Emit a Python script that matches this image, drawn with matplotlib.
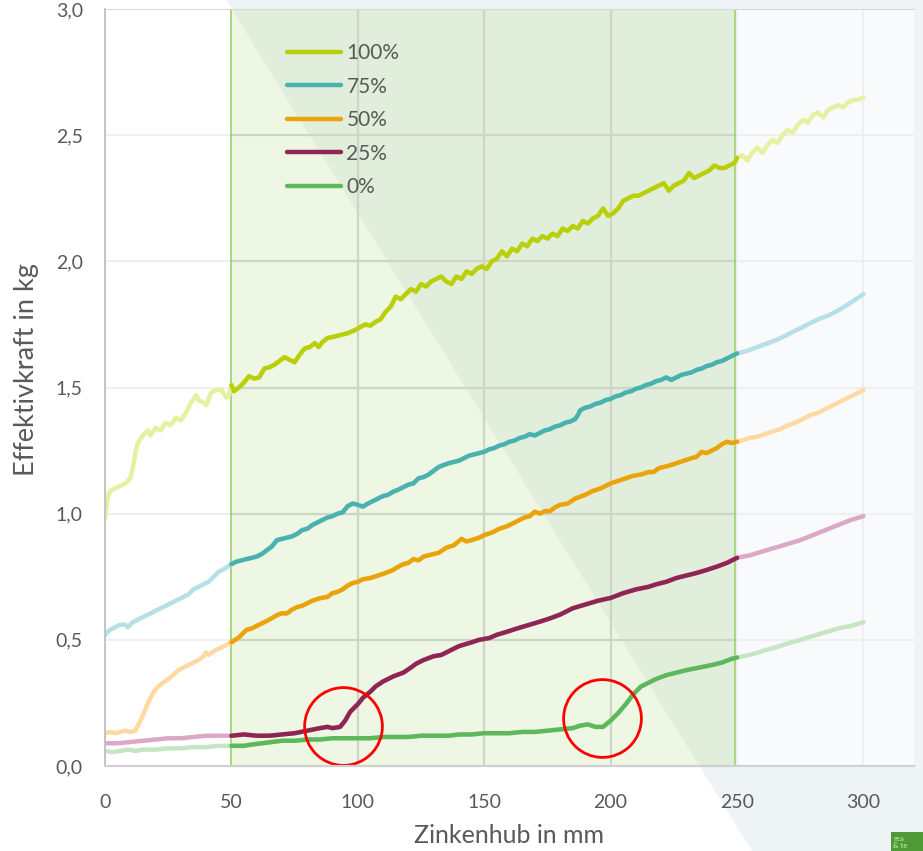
import numpy as np
import matplotlib
matplotlib.use("Agg")
import matplotlib.pyplot as plt
from matplotlib.patches import Polygon, Rectangle

plt.rcParams['font.family'] = ['Lato', 'DejaVu Sans']

# Zinkenhub (mm) und Effektivkraft (kg) je Vorspannung
x100 = [0, 1, 2, 4, 6, 8, 10, 11, 12, 13, 15, 17, 18, 20, 22, 24, 26, 28, 30, 32, 34,
        36, 37, 39, 40, 42, 44, 46, 48, 49, 50, 51, 53, 55, 57, 59, 61, 63, 65, 67, 69,
        71, 73, 75, 77, 79, 81, 83, 84.5, 86, 88, 90, 92, 94, 96, 99, 101, 103, 105, 107,
        109, 111, 113, 115, 117, 119, 121, 123, 125, 127, 129, 131, 133, 135, 137, 139,
        141, 143, 145, 147, 149, 151, 153, 155, 157, 159, 161, 163, 165, 167, 169, 171,
        173, 175, 177, 179, 181, 183, 185, 187, 189, 191, 193, 195, 197, 199, 201, 203,
        205, 207, 209, 211, 213, 215, 217, 219, 221, 223, 225, 227, 229, 231, 233, 235,
        237, 239, 241, 243, 245, 247, 249, 250, 252, 254, 256, 258, 260, 262, 264, 266,
        268, 270, 272, 274, 276, 278, 280, 282, 284, 286, 288, 290, 292, 294, 296, 298, 300]
y100 = [0.98, 1.06, 1.09, 1.10, 1.11, 1.12, 1.14, 1.18, 1.24, 1.28, 1.31, 1.33, 1.31, 1.34,
        1.33, 1.36, 1.35, 1.38, 1.37, 1.40, 1.44, 1.47, 1.45, 1.44, 1.43, 1.48, 1.49, 1.49,
        1.46, 1.47, 1.51, 1.485, 1.50, 1.52, 1.545, 1.535, 1.54, 1.575, 1.58, 1.59, 1.605,
        1.62, 1.61, 1.60, 1.63, 1.655, 1.66, 1.676, 1.66, 1.68, 1.696, 1.70, 1.705, 1.71,
        1.715, 1.728, 1.74, 1.75, 1.745, 1.76, 1.77, 1.80, 1.82, 1.86, 1.85, 1.87, 1.89,
        1.88, 1.91, 1.90, 1.92, 1.93, 1.94, 1.92, 1.91, 1.94, 1.93, 1.96, 1.95, 1.97, 1.98,
        1.97, 2.00, 2.01, 2.04, 2.02, 2.05, 2.04, 2.07, 2.06, 2.09, 2.08, 2.10, 2.09, 2.11,
        2.10, 2.13, 2.12, 2.14, 2.13, 2.16, 2.15, 2.17, 2.18, 2.21, 2.18, 2.19, 2.21, 2.24,
        2.25, 2.26, 2.26, 2.27, 2.28, 2.29, 2.30, 2.31, 2.28, 2.30, 2.31, 2.32, 2.35, 2.33,
        2.34, 2.35, 2.36, 2.38, 2.37, 2.37, 2.38, 2.39, 2.41, 2.42, 2.40, 2.43, 2.45, 2.43,
        2.46, 2.48, 2.47, 2.50, 2.52, 2.51, 2.54, 2.56, 2.55, 2.58, 2.59, 2.57, 2.60, 2.61,
        2.62, 2.61, 2.63, 2.64, 2.64, 2.65]

x75 = [0, 2, 4, 6, 8, 9, 11, 13, 15, 17, 19, 21, 23, 25, 27, 29, 31, 33, 35, 37, 39, 41,
       43, 45, 47, 50, 52, 54, 56, 58, 60, 62, 64, 66, 68, 70, 72, 74, 76, 78, 80, 82, 84,
       86, 88, 90, 92, 94, 96, 98, 100, 102, 104, 106, 108, 110, 112, 114, 116, 118, 120,
       122, 124, 126, 128, 130, 132, 134, 136, 138, 140, 142, 144, 146, 148, 150, 152, 154,
       156, 158, 160, 162, 164, 166, 168, 170, 172, 174, 176, 178, 180, 182, 184, 186, 187,
       188, 190, 192, 194, 196, 198, 200, 202, 204, 206, 208, 210, 212, 214, 216, 218, 220,
       222, 224, 226, 228, 230, 232, 234, 236, 238, 240, 242, 244, 246, 248, 250, 254, 258,
       262, 266, 270, 274, 278, 282, 286, 290, 294, 297, 300]
y75 = [0.52, 0.54, 0.55, 0.56, 0.56, 0.55, 0.57, 0.58, 0.59, 0.60, 0.61, 0.62, 0.63, 0.64,
       0.65, 0.66, 0.67, 0.68, 0.70, 0.71, 0.72, 0.73, 0.75, 0.77, 0.78, 0.80, 0.81, 0.815,
       0.82, 0.825, 0.83, 0.84, 0.855, 0.87, 0.895, 0.90, 0.905, 0.91, 0.92, 0.935, 0.94,
       0.955, 0.965, 0.975, 0.985, 0.99, 1.00, 1.005, 1.03, 1.04, 1.035, 1.028, 1.04, 1.05,
       1.06, 1.07, 1.075, 1.087, 1.095, 1.105, 1.115, 1.12, 1.14, 1.145, 1.155, 1.17, 1.185,
       1.193, 1.20, 1.205, 1.21, 1.22, 1.23, 1.235, 1.24, 1.245, 1.255, 1.26, 1.27, 1.275,
       1.285, 1.29, 1.30, 1.305, 1.315, 1.31, 1.32, 1.33, 1.335, 1.345, 1.35, 1.36, 1.365,
       1.375, 1.39, 1.41, 1.42, 1.425, 1.435, 1.44, 1.45, 1.455, 1.465, 1.47, 1.48, 1.485,
       1.495, 1.50, 1.51, 1.515, 1.525, 1.53, 1.54, 1.53, 1.54, 1.55, 1.555, 1.56, 1.57,
       1.575, 1.585, 1.59, 1.60, 1.605, 1.615, 1.625, 1.635, 1.645, 1.66, 1.675, 1.69, 1.71,
       1.73, 1.75, 1.77, 1.785, 1.805, 1.83, 1.85, 1.87]

x50 = [0, 2, 4, 6, 8, 10, 12, 13, 15, 17, 19, 21, 23, 25, 27, 29, 31, 33, 35, 37, 39, 40,
       41, 43, 45, 47, 50, 53, 56, 58, 60, 62, 65, 68, 70, 72, 74, 76, 78, 80, 82, 85, 88,
       90, 92, 94, 96, 98, 100, 102, 105, 108, 111, 114, 116, 118, 120, 122, 124, 126, 128,
       130, 132, 135, 138, 141, 143, 145, 148, 150, 153, 156, 159, 162, 164, 166, 168, 170,
       172, 174, 176, 178, 180, 183, 186, 188, 190, 193, 196, 198, 200, 203, 206, 209, 212,
       215, 217, 219, 221, 223, 226, 229, 232, 234, 236, 238, 240, 242, 244, 246, 248, 250,
       252, 255, 258, 261, 264, 267, 270, 273, 276, 279, 282, 285, 288, 291, 294, 297, 300]
y50 = [0.13, 0.135, 0.13, 0.135, 0.14, 0.135, 0.14, 0.16, 0.20, 0.25, 0.29, 0.315, 0.33,
       0.345, 0.36, 0.38, 0.39, 0.40, 0.41, 0.42, 0.435, 0.45, 0.44, 0.455, 0.465, 0.475,
       0.49, 0.51, 0.54, 0.545, 0.555, 0.565, 0.58, 0.598, 0.605, 0.605, 0.62, 0.63, 0.635,
       0.645, 0.655, 0.665, 0.67, 0.685, 0.69, 0.70, 0.715, 0.725, 0.73, 0.74, 0.745, 0.755,
       0.765, 0.777, 0.79, 0.80, 0.805, 0.82, 0.815, 0.83, 0.835, 0.84, 0.845, 0.865, 0.875,
       0.90, 0.89, 0.895, 0.905, 0.915, 0.925, 0.94, 0.95, 0.965, 0.975, 0.985, 0.99, 1.008,
       1.00, 1.01, 1.01, 1.025, 1.035, 1.04, 1.06, 1.067, 1.075, 1.09, 1.10, 1.11, 1.12,
       1.13, 1.14, 1.15, 1.155, 1.165, 1.165, 1.18, 1.185, 1.19, 1.20, 1.21, 1.22, 1.225,
       1.245, 1.24, 1.25, 1.26, 1.275, 1.285, 1.28, 1.285, 1.29, 1.30, 1.305, 1.315, 1.325,
       1.335, 1.35, 1.36, 1.375, 1.39, 1.40, 1.415, 1.43, 1.445, 1.46, 1.475, 1.49]

x25 = [0, 5, 10, 15, 20, 25, 30, 35, 40, 45, 50, 55, 60, 65, 70, 75, 80, 85, 88, 90, 93,
       95, 97, 100, 102, 105, 107, 110, 114, 118, 121, 123, 126, 130, 133, 136, 140, 145,
       148, 152, 155, 159, 163, 168, 172, 176, 180, 185, 190, 195, 200, 205, 210, 215, 218,
       222, 226, 230, 234, 238, 242, 246, 248, 250, 255, 260, 265, 270, 275, 280, 285, 290,
       295, 300]
y25 = [0.09, 0.09, 0.095, 0.10, 0.105, 0.11, 0.11, 0.115, 0.12, 0.12, 0.12, 0.125, 0.12,
       0.12, 0.125, 0.13, 0.14, 0.15, 0.155, 0.15, 0.155, 0.18, 0.215, 0.245, 0.27, 0.295,
       0.315, 0.335, 0.355, 0.37, 0.39, 0.405, 0.42, 0.435, 0.44, 0.455, 0.475, 0.49, 0.50,
       0.507, 0.52, 0.532, 0.545, 0.56, 0.572, 0.585, 0.60, 0.625, 0.64, 0.655, 0.666, 0.685,
       0.70, 0.71, 0.72, 0.73, 0.745, 0.755, 0.765, 0.777, 0.79, 0.805, 0.815, 0.825, 0.835,
       0.85, 0.865, 0.88, 0.895, 0.915, 0.935, 0.955, 0.975, 0.99]

x0 = [0, 3, 6, 9, 12, 15, 20, 25, 30, 35, 40, 45, 50, 55, 58, 62, 66, 70, 75, 80, 85, 90,
      95, 100, 105, 110, 115, 120, 125, 130, 136, 140, 145, 150, 155, 160, 165, 170, 175,
      180, 185, 188, 191, 194, 197, 200, 203, 206, 209, 212, 215, 218, 222, 226, 230, 235,
      240, 244, 248, 250, 255, 260, 265, 270, 275, 280, 285, 290, 295, 300]
y0 = [0.06, 0.055, 0.06, 0.065, 0.06, 0.065, 0.065, 0.07, 0.07, 0.075, 0.075, 0.08, 0.08,
      0.08, 0.085, 0.09, 0.095, 0.10, 0.10, 0.105, 0.105, 0.11, 0.11, 0.11, 0.11, 0.115,
      0.115, 0.115, 0.12, 0.12, 0.12, 0.125, 0.125, 0.13, 0.13, 0.13, 0.135, 0.135, 0.14,
      0.145, 0.15, 0.16, 0.165, 0.155, 0.155, 0.18, 0.21, 0.245, 0.285, 0.315, 0.33, 0.345,
      0.36, 0.37, 0.38, 0.39, 0.40, 0.41, 0.425, 0.43, 0.44, 0.455, 0.47, 0.485, 0.50,
      0.515, 0.53, 0.545, 0.555, 0.57]

labels = ["100%", "75%", "50%", "25%", "0%"]
serien = [(x100, y100), (x75, y75), (x50, y50), (x25, y25), (x0, y0)]
farben = ["#b8cf0a", "#4ab2ae", "#e9a40c", "#8e2553", "#5db85b"]
blass = ["#e6f0a0", "#b4e0e6", "#ffd9a2", "#dca8c6", "#c5e5c3"]

xticks = [0, 50, 100, 150, 200, 250, 300]
yticks = [0.0, 0.5, 1.0, 1.5, 2.0, 2.5, 3.0]
ytick_labels = ["0,0", "0,5", "1,0", "1,5", "2,0", "2,5", "3,0"]

# markierte Stellen (Knick der Kurven)
kreis_x = [94, 196.5]
kreis_y = [0.16, 0.19]

W, H = 923, 851
fig = plt.figure(figsize=(W / 100, H / 100), dpi=100)

# schraeger Hintergrund
diag = [(226 / W, 1), (1, 1), (1, 0), (752 / W, 0)]
fig.patches.append(Polygon(diag, closed=True, transform=fig.transFigure,
                           facecolor="#eef3f6", edgecolor="none", zorder=-5))
fig.patches.append(Rectangle((891 / W, 0), 32 / W, 19 / H, transform=fig.transFigure,
                             facecolor="#4d9a36", edgecolor="none", zorder=1))
fig.text(893 / W, 9 / H, "rea\n& te", fontsize=5.5, color="#a8d890",
         va="center", ha="left", linespacing=0.9, fontweight="bold")

ax = fig.add_axes([105 / W, 1 - 766 / H, (914 - 105) / W, (766 - 9) / H])
ax.set_facecolor("white")
ax.add_artist(Polygon(diag, closed=True, transform=fig.transFigure,
                      facecolor="#f9fafc", edgecolor="none", zorder=0.2))

# Bereich 50-250 mm
band = Rectangle((50, 0), 199, 3.0, facecolor="#eef6e4", edgecolor="none", zorder=0.6)
ax.add_patch(band)
dunkel = Polygon(diag, closed=True, transform=fig.transFigure,
                 facecolor="#e0eedb", edgecolor="none", zorder=0.65)
ax.add_artist(dunkel)
dunkel.set_clip_path(band)
for v in xticks:
    if 50 < v < 249:
        ax.plot([v, v], [0, 3], color="#cdd6c4", lw=1.6, zorder=0.7)
for h in yticks[1:-1]:
    ax.plot([50, 249], [h, h], color="#cdd6c4", lw=1.6, zorder=0.7)
ax.add_patch(Rectangle((50, 0), 199, 3.0, fill=False, edgecolor="#9fd06c", lw=1.2, zorder=1.5))

ax.grid(True, color="#eeeeee", lw=1.3)
ax.set_axisbelow(True)

handles = []
for (xs, ys), lab, c, cb in zip(serien, labels, farben, blass):
    xs = np.array(xs)
    ys = np.array(ys)
    ax.plot(xs, ys, color=cb, lw=3.2, solid_capstyle="round", zorder=2)
    m = (xs >= 50) & (xs <= 250)
    h, = ax.plot(xs[m], ys[m], color=c, lw=3.2, solid_capstyle="round", zorder=3, label=lab)
    handles.append(h)

ax.plot(kreis_x, kreis_y, "o", ms=56, mfc="none", mec="red", mew=2, zorder=4)

ax.set_xlim(0, 320)
ax.set_ylim(0, 3.0)
ax.set_xticks(xticks)
ax.set_yticks(yticks)
ax.set_yticklabels(ytick_labels)
ax.tick_params(length=0, labelsize=14, labelcolor="#595959")
ax.tick_params(axis="y", pad=16)
ax.tick_params(axis="x", pad=20)

for s in ["left", "bottom", "top", "right"]:
    ax.spines[s].set_zorder(5)
ax.spines["left"].set_color("#bfbfbf")
ax.spines["left"].set_linewidth(1.3)
ax.spines["bottom"].set_color("#d0d0d0")
ax.spines["bottom"].set_linewidth(1.6)
ax.spines["top"].set_color("#d9d9d9")
ax.spines["right"].set_visible(False)

ax.set_xlabel("Zinkenhub in mm", fontsize=18, color="#595959")
ax.set_ylabel("Effektivkraft in kg", fontsize=19.5, color="#595959")
ax.xaxis.set_label_coords(0.5, -0.077)
ax.yaxis.set_label_coords(-0.082, 0.524)

ax.legend(handles=handles, loc="upper left", bbox_to_anchor=(0.225, 0.955),
          frameon=False, fontsize=15, labelcolor="#595959", handlelength=2.6,
          handletextpad=0.25, labelspacing=0.65, borderpad=0, borderaxespad=0)

fig.savefig("out.png", dpi=100)
